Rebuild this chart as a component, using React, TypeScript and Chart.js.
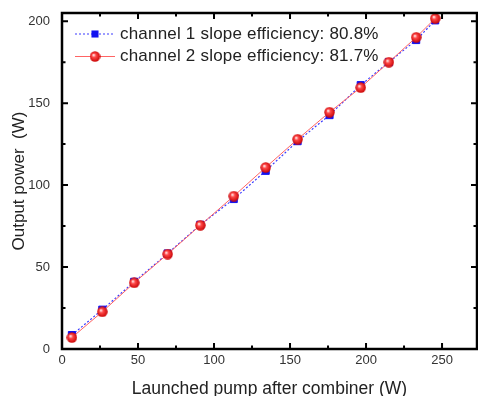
import React, { useEffect, useRef } from "react";
import { Chart, registerables } from "chart.js";

Chart.register(...registerables);

const pumpPower = [6.5, 26.5, 47.5, 69.5, 91, 113, 134, 155, 176, 196.5, 215, 233, 245.5];
const channel1 = [8.5, 24, 41, 58.3, 75.8, 91.5, 108.7, 126.8, 142.7, 161, 175, 188.5, 200.5];
const channel2 = [7, 22.7, 40.4, 57.9, 75.5, 93.3, 110.8, 128, 144.5, 159.5, 175, 190.2, 201.7];
const seriesLabels = ["channel 1 slope efficiency: 80.8%", "channel 2 slope efficiency: 81.7%"];
const xTitle = "Launched pump after combiner (W)";
const yTitle = "Output power  (W)";

const FONT = "'Liberation Sans', Arial, sans-serif";

function makeSphere(): HTMLCanvasElement {
  const c = document.createElement("canvas");
  c.width = 11;
  c.height = 11;
  const g = c.getContext("2d")!;
  const grad = g.createRadialGradient(4, 4, 0.5, 5.5, 5.5, 5.5);
  grad.addColorStop(0, "#ffe0e0");
  grad.addColorStop(0.3, "#ff4a4a");
  grad.addColorStop(1, "#c80000");
  g.fillStyle = grad;
  g.beginPath();
  g.arc(5.5, 5.5, 5.2, 0, Math.PI * 2);
  g.fill();
  return c;
}

const framePlugin = {
  id: "frameTicks",
  afterDraw(chart: any) {
    const { ctx, chartArea } = chart;
    const { left, right, top, bottom } = chartArea;
    const xs = chart.scales.x;
    const ys = chart.scales.y;
    ctx.save();
    ctx.strokeStyle = "#000";
    ctx.lineWidth = 2.5;
    ctx.strokeRect(left, top, right - left, bottom - top);
    ctx.lineWidth = 2;
    for (let v = 0; v <= 250; v += 25) {
      const px = xs.getPixelForValue(v);
      const len = v % 50 === 0 ? 6 : 3.5;
      ctx.beginPath();
      ctx.moveTo(px, bottom);
      ctx.lineTo(px, bottom - len);
      ctx.moveTo(px, top);
      ctx.lineTo(px, top + len);
      ctx.stroke();
    }
    for (let v = 0; v <= 200; v += 25) {
      const py = ys.getPixelForValue(v);
      const len = v % 50 === 0 ? 6 : 3.5;
      ctx.beginPath();
      ctx.moveTo(left, py);
      ctx.lineTo(left + len, py);
      ctx.moveTo(right, py);
      ctx.lineTo(right - len, py);
      ctx.stroke();
    }
    // legend
    const ds = chart.data.datasets;
    const rows = [top + 21, top + 43.5];
    const order = [1, 0];
    order.forEach((di, i) => {
      const d = ds[di];
      const y = rows[i];
      const x0 = left + 13;
      const x1 = left + 53;
      ctx.save();
      ctx.strokeStyle = d.borderColor;
      ctx.lineWidth = d.borderWidth;
      ctx.setLineDash(d.borderDash || []);
      ctx.beginPath();
      ctx.moveTo(x0, y);
      ctx.lineTo(x1, y);
      ctx.stroke();
      ctx.restore();
      const mx = (x0 + x1) / 2;
      if (d.pointStyle === "rect") {
        ctx.fillStyle = d.pointBackgroundColor;
        const s = d.pointRadius * Math.SQRT1_2;
        ctx.fillRect(mx - s, y - s, 2 * s, 2 * s);
      } else {
        const img = d.pointStyle as HTMLCanvasElement;
        ctx.drawImage(img, mx - img.width / 2, y - img.height / 2);
      }
      ctx.save();
      ctx.fillStyle = "#222";
      ctx.font = `17px ${FONT}`;
      (ctx as any).letterSpacing = "0.2px";
      ctx.textBaseline = "middle";
      ctx.textAlign = "left";
      ctx.fillText(d.label, left + 58, y);
      ctx.restore();
    });
    ctx.restore();
  },
};

export default function App() {
  const ref = useRef<HTMLCanvasElement>(null);
  useEffect(() => {
    if (!ref.current) return;
    const sphere = makeSphere();
    const chart = new Chart(ref.current, {
      type: "line",
      data: {
        datasets: [
          {
            label: seriesLabels[1],
            data: pumpPower.map((x, i) => ({ x, y: channel2[i] })),
            borderColor: "#ff6464",
            borderWidth: 1,
            pointStyle: sphere as any,
            pointRadius: 5,
            pointBackgroundColor: "#ff3030",
            order: 0,
          },
          {
            label: seriesLabels[0],
            data: pumpPower.map((x, i) => ({ x, y: channel1[i] })),
            borderColor: "#3a3aff",
            borderWidth: 1.2,
            borderDash: [2, 2],
            pointStyle: "rect",
            pointRadius: 5,
            pointBackgroundColor: "#1212f0",
            pointBorderColor: "#1212f0",
            pointBorderWidth: 1,
            order: 1,
          },
        ] as any,
      },
      options: {
        animation: false,
        responsive: false,
        layout: { autoPadding: false, padding: { top: 13, right: 1, left: 0, bottom: 0 } },
        plugins: { legend: { display: false }, tooltip: { enabled: false } },
        scales: {
          x: {
            type: "linear",
            min: 0,
            max: 273,
            grid: { display: false, drawTicks: false },
            border: { display: false },
            ticks: {
              stepSize: 50,
              includeBounds: false,
              padding: 4,
              color: "#333",
              font: { family: FONT, size: 13 },
            },
            title: {
              display: true,
              text: xTitle,
              color: "#222",
              font: { family: FONT, size: 17.5 },
              padding: { top: 0, bottom: -3.4 },
            },
            afterFit: (s: any) => {
              s.height = 47;
              s.paddingLeft = 0;
              s.paddingRight = 0;
            },
          },
          y: {
            type: "linear",
            min: 0,
            max: 205,
            grid: { display: false, drawTicks: false },
            border: { display: false },
            ticks: {
              stepSize: 50,
              includeBounds: false,
              padding: 12,
              color: "#333",
              font: { family: FONT, size: 13 },
            },
            title: {
              display: true,
              text: yTitle,
              color: "#222",
              font: { family: FONT, size: 17 },
              padding: { top: 9, bottom: 0 },
            },
            afterFit: (s: any) => {
              s.width = 62;
              s.paddingTop = 0;
              s.paddingBottom = 0;
            },
          },
        },
      } as any,
      plugins: [framePlugin],
    });
    return () => chart.destroy();
  }, []);
  return (
    <div style={{ position: "absolute", left: 0, top: 0, width: 478, height: 396, background: "#fff" }}>
      <canvas ref={ref} width={478} height={396} style={{ display: "block" }} />
    </div>
  );
}
